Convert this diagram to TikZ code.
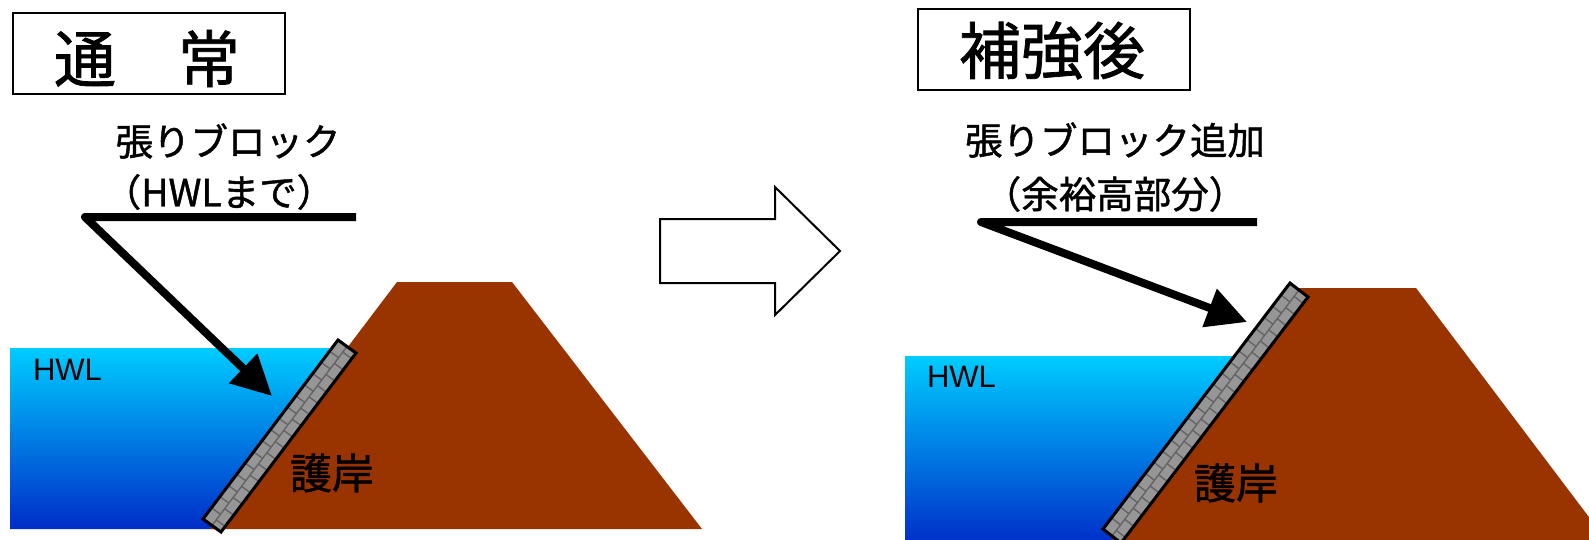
\documentclass[tikz,border=0pt]{standalone}
\usepackage{fontspec}
\setmainfont{Liberation Sans}
\newfontfamily\jpfont[FakeBold=1.2]{Noto Sans CJK JP}
\usetikzlibrary{arrows.meta}

\definecolor{watertop}{RGB}{0,204,255}
\definecolor{watermid}{RGB}{0,150,232}
\definecolor{waterbot}{RGB}{0,45,200}
\definecolor{earth}{RGB}{153,51,0}
\definecolor{blockgray}{RGB}{150,150,150}
\definecolor{jointgray}{RGB}{100,100,100}

\tikzset{
  titlebox/.style={draw, line width=2pt, minimum width=272pt, minimum height=81pt, inner sep=0pt},
  titletext/.style={inner sep=0pt, font=\jpfont\fontsize{62}{70}\selectfont},
  caption/.style={inner sep=0pt, font=\jpfont\fontsize{37.5}{45}\selectfont},
  revet/.style={inner sep=0pt, font=\jpfont\fontsize{42}{48}\selectfont},
  hwl/.style={inner sep=0pt, font=\fontsize{31}{36}\selectfont},
  water/.style={top color=watertop, middle color=watermid, bottom color=waterbot},
  leader/.style={line width=8pt, line join=round, -{Triangle[length=40pt,width=39pt]}},
  joint/.style={draw=jointgray, line width=1.4pt},
  blockedge/.style={draw=black, line width=3pt, line join=miter},
  bigarrow/.style={draw=black, line width=2pt, fill=white, line join=miter}
}

\begin{document}
\begin{tikzpicture}[x=1pt,y=-1pt]
  \clip (0,0) rectangle (1589,539);
  \fill[white] (0,0) rectangle (1589,539);

  % ---------- left panel: ordinary section ----------
  \node[titlebox] (titleL) at (149,53.5) {};
  \node[titletext] (titleLtxt) at (147,58.5) {通　常};

  % river water up to HWL, its right edge hidden under the slope
  \shade[water] (10,348) -- (350,348) -- (215,529) -- (10,529) -- cycle;
  \fill[earth] (210,529) -- (397,282) -- (512,282) -- (702,529) -- cycle;

  % revetment blocks on the slope (up to HWL)
  \begin{scope}[shift={(203,519)}, x={(18pt,-13pt)}, y={(135pt,179pt)}]
    \fill[blockgray] (0,0) -- (1,0) -- (1,1) -- (0,1) -- cycle;
    \draw[joint] (0.5,0) -- (0.5,1);
    \foreach \k in {1,...,15} {
      \draw[joint] (0,{\k*0.0625}) -- (0.5,{\k*0.0625});
      \draw[joint] (0.5,{(\k-0.5)*0.0625}) -- (1,{(\k-0.5)*0.0625});
    }
    \draw[joint] (0.5,{15.5*0.0625}) -- (1,{15.5*0.0625});
    \draw[blockedge] (0,0) -- (1,0) -- (1,1) -- (0,1) -- cycle;
  \end{scope}

  \node[hwl] (hwlL) at (67.5,370) {HWL};
  \node[revet] (revL) at (332,473) {護岸};

  \node[caption] (capL1) at (228,141) {張りブロック};
  \node[caption] (capL2) at (219,192) {（HWLまで）};
  \coordinate (ulL) at (356,217);
  \coordinate (bendL) at (85,217);
  \coordinate (tipL) at (272,396);
  \draw[leader] (ulL) -- (bendL) -- (tipL);

  % ---------- transition arrow ----------
  \draw[bigarrow] (660,219) -- (775,219) -- (775,187) -- (840,251)
                  -- (775,315) -- (775,283) -- (660,283) -- cycle;

  % ---------- right panel: after reinforcement ----------
  \node[titlebox] (titleR) at (1054,49) {};
  \node[titletext] (titleRtxt) at (1052,50.5) {補強後};

  \shade[water] (905,356) -- (1262,356) -- (1110,545) -- (905,545) -- cycle;
  \fill[earth] (1108,545) -- (1298,288) -- (1416,288) -- (1610,545) -- cycle;

  % revetment blocks extended over the freeboard
  \begin{scope}[shift={(1103,529)}, x={(18pt,-14pt)}, y={(187pt,246pt)}]
    \fill[blockgray] (0,0) -- (1,0) -- (1,1) -- (0,1) -- cycle;
    \draw[joint] (0.5,0) -- (0.5,1);
    \foreach \k in {1,...,22} {
      \draw[joint] (0,{\k*0.0453}) -- (0.5,{\k*0.0453});
      \draw[joint] (0.5,{(\k-0.5)*0.0453}) -- (1,{(\k-0.5)*0.0453});
    }
    \draw[blockedge] (0,0) -- (1,0) -- (1,1) -- (0,1) -- cycle;
  \end{scope}

  \node[hwl] (hwlR) at (961.5,376.5) {HWL};
  \node[revet] (revR) at (1236,483) {護岸};

  \node[caption] (capR1) at (1115,140) {張りブロック追加};
  \node[caption] (capR2) at (1115,194) {（余裕高部分）};
  \coordinate (ulR) at (1257,222);
  \coordinate (bendR) at (981,222);
  \coordinate (tipR) at (1247,322);
  \draw[leader] (ulR) -- (bendR) -- (tipR);
\end{tikzpicture}
\end{document}
